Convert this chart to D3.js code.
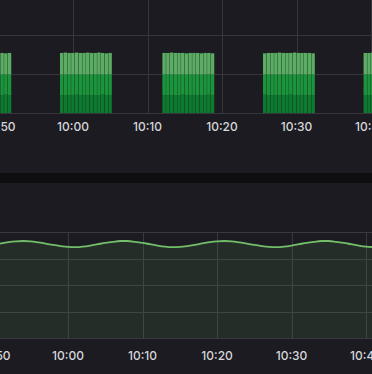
<!DOCTYPE html>
<html lang="en">
<head>
    <meta charset="utf-8">
    <title>Dashboard panels</title>
    <script src="https://d3js.org/d3.v7.min.js"></script>
    <style>
        body {
            margin: 0;
            padding: 0;
            background-color: #0e0e11;
            font-family: 'Inter', 'Roboto', sans-serif;
        }
        .tick-label {
            fill: #d6d7da;
            font-size: 12px;
            font-weight: 500;
            text-anchor: middle;
        }
    </style>
</head>
<body>
    <div id="chart"></div>

    <script>
        // ---- data ----
        // start of each "on" block of bars (one bar every 30 s)
        var blockStarts = ["09:44:45", "09:58:15", "10:12:00", "10:25:30", "10:39:00"];
        var barStepSec = 30;

        // stacked series, one row per block, one value per bar
        var seriesLow = [
            [4.6, 4.6, 4.5, 4.6, 4.6, 4.7, 4.6, 4.6, 4.5, 4.6, 4.6, 4.6, 4.7, 4.6],
            [4.6, 4.6, 4.5, 4.6, 4.7, 4.6, 4.6, 4.6, 4.5, 4.6, 4.6, 4.7, 4.6, 4.6],
            [4.6, 4.5, 4.6, 4.6, 4.6, 4.7, 4.6, 4.5, 4.6, 4.6, 4.6, 4.6, 4.7, 4.6],
            [4.7, 4.6, 4.6, 4.6, 4.5, 4.6, 4.6, 4.7, 4.6, 4.6, 4.6, 4.5, 4.6, 4.6],
            [4.6, 4.6, 4.6, 4.5, 4.6, 4.6, 4.7, 4.6, 4.6, 4.6, 4.6, 4.6, 4.5, 4.6]
        ];
        var seriesMid = [
            [5.3, 5.3, 5.4, 5.3, 5.3, 5.2, 5.3, 5.3, 5.4, 5.3, 5.3, 5.3, 5.2, 5.3],
            [5.3, 5.3, 5.4, 5.3, 5.2, 5.3, 5.3, 5.3, 5.4, 5.3, 5.3, 5.2, 5.3, 5.3],
            [5.3, 5.4, 5.3, 5.3, 5.3, 5.2, 5.3, 5.4, 5.3, 5.3, 5.3, 5.3, 5.2, 5.3],
            [5.2, 5.3, 5.3, 5.3, 5.4, 5.3, 5.3, 5.2, 5.3, 5.3, 5.3, 5.4, 5.3, 5.3],
            [5.3, 5.3, 5.3, 5.4, 5.3, 5.3, 5.2, 5.3, 5.3, 5.3, 5.3, 5.3, 5.4, 5.3]
        ];
        var seriesHigh = [
            [5.5, 5.5, 5.4, 5.5, 5.5, 5.6, 5.5, 5.5, 5.4, 5.5, 5.5, 5.5, 5.4, 5.5],
            [5.5, 5.6, 5.5, 5.5, 5.6, 5.5, 5.5, 5.6, 5.5, 5.5, 5.6, 5.5, 5.4, 5.5],
            [5.5, 5.5, 5.6, 5.5, 5.5, 5.5, 5.4, 5.5, 5.5, 5.5, 5.4, 5.5, 5.5, 5.4],
            [5.4, 5.5, 5.5, 5.5, 5.6, 5.5, 5.5, 5.5, 5.6, 5.5, 5.5, 5.5, 5.5, 5.4],
            [5.5, 5.5, 5.6, 5.5, 5.5, 5.5, 5.5, 5.6, 5.5, 5.5, 5.5, 5.5, 5.6, 5.5]
        ];
        var barColors = ["#0d7b2f", "#1b953b", "#5aad62"];

        // lower panel: one sample per minute
        var lineTimes = [
            "09:50", "09:51", "09:52", "09:53", "09:54", "09:55", "09:56", "09:57", "09:58", "09:59",
            "10:00", "10:01", "10:02", "10:03", "10:04", "10:05", "10:06", "10:07", "10:08", "10:09",
            "10:10", "10:11", "10:12", "10:13", "10:14", "10:15", "10:16", "10:17", "10:18", "10:19",
            "10:20", "10:21", "10:22", "10:23", "10:24", "10:25", "10:26", "10:27", "10:28", "10:29",
            "10:30", "10:31", "10:32", "10:33", "10:34", "10:35", "10:36", "10:37", "10:38", "10:39",
            "10:40", "10:41"
        ];
        var lineValues = [
            35.1, 35.7, 36.2, 36.5, 36.6, 36.5, 36.1, 35.6, 35.1, 34.7,
            34.4, 34.3, 34.5, 34.9, 35.4, 35.9, 36.3, 36.6, 36.6, 36.3,
            35.9, 35.4, 34.9, 34.5, 34.3, 34.4, 34.7, 35.1, 35.7, 36.2,
            36.5, 36.6, 36.5, 36.1, 35.6, 35.1, 34.7, 34.4, 34.3, 34.5,
            34.9, 35.4, 35.9, 36.3, 36.6, 36.6, 36.3, 35.9, 35.4, 34.9,
            34.5, 34.3
        ];

        // x tick labels shared by both panels
        var timeTicks = ["09:50", "10:00", "10:10", "10:20", "10:30", "10:40"];
        var topTicksY = [0, 10, 20, 30];
        var bottomTicksY = [0, 10, 20, 30, 40];

        // ---- layout ----
        var width = 372, height = 374;
        var parseT = d3.timeParse("%H:%M:%S");
        var parseM = d3.timeParse("%H:%M");
        var fmt = d3.timeFormat("%H:%M");
        var tickDates = timeTicks.map(parseM);

        var svg = d3.select("#chart")
            .append("svg")
            .attr("width", width)
            .attr("height", height)
            .style("display", "block");

        // panel backgrounds
        svg.append("rect").attr("x", 0).attr("y", 0)
            .attr("width", width).attr("height", 173).attr("fill", "#1c1b21");
        svg.append("rect").attr("x", 0).attr("y", 183)
            .attr("width", width).attr("height", 191).attr("fill", "#1c1b21");

        // ---- top panel: stacked bars ----
        var xTop = d3.scaleTime()
            .domain([parseT("09:50:12"), parseT("10:40:08")])
            .range([0, width]);
        var yTop = d3.scaleLinear().domain([0, 30]).range([113, -4]);

        var gTop = svg.append("g");

        gTop.selectAll(".vgrid")
            .data(tickDates)
            .enter().append("line")
            .attr("x1", function(d) { return Math.round(xTop(d)) + 0.5; })
            .attr("x2", function(d) { return Math.round(xTop(d)) + 0.5; })
            .attr("y1", -4).attr("y2", 113)
            .attr("stroke", "#36363c").attr("stroke-width", 1);

        gTop.selectAll(".hgrid")
            .data(topTicksY)
            .enter().append("line")
            .attr("x1", 0).attr("x2", width)
            .attr("y1", function(d) { return Math.round(yTop(d)) + 0.5; })
            .attr("y2", function(d) { return Math.round(yTop(d)) + 0.5; })
            .attr("stroke", "#36363c").attr("stroke-width", 1);

        // build rows for the stack
        var rows = [];
        blockStarts.forEach(function(s, b) {
            var t0 = parseT(s);
            seriesLow[b].forEach(function(v, i) {
                rows.push({
                    time: new Date(t0.getTime() + i * barStepSec * 1000),
                    low: v, mid: seriesMid[b][i], high: seriesHigh[b][i]
                });
            });
        });
        var stacked = d3.stack().keys(["low", "mid", "high"])(rows);
        var barW = xTop(new Date(parseT("10:00:00").getTime() + barStepSec * 1000)) - xTop(parseT("10:00:00"));

        gTop.selectAll(".layer")
            .data(stacked)
            .enter().append("g")
            .attr("fill", function(d, i) { return barColors[i]; })
            .selectAll("rect")
            .data(function(d) { return d; })
            .enter().append("rect")
            .attr("x", function(d) { return xTop(d.data.time); })
            .attr("width", barW - 0.3)
            .attr("y", function(d) { return yTop(d[1]); })
            .attr("height", function(d) { return yTop(d[0]) - yTop(d[1]); });

        gTop.selectAll(".xlab")
            .data(tickDates)
            .enter().append("text")
            .attr("class", "tick-label")
            .attr("x", function(d) { return xTop(d); })
            .attr("y", 131)
            .text(fmt);

        // ---- bottom panel: area line ----
        var xBot = d3.scaleTime()
            .domain([parseT("09:50:52"), parseT("10:40:48")])
            .range([0, width]);
        var yBot = d3.scaleLinear().domain([0, 40]).range([338, 232]);

        var gBot = svg.append("g");

        gBot.selectAll(".vgrid")
            .data(tickDates)
            .enter().append("line")
            .attr("x1", function(d) { return Math.round(xBot(d)) + 0.5; })
            .attr("x2", function(d) { return Math.round(xBot(d)) + 0.5; })
            .attr("y1", 232).attr("y2", 338)
            .attr("stroke", "#38383e").attr("stroke-width", 1);

        gBot.selectAll(".hgrid")
            .data(bottomTicksY)
            .enter().append("line")
            .attr("x1", 0).attr("x2", width)
            .attr("y1", function(d) { return Math.round(yBot(d)) + 0.5; })
            .attr("y2", function(d) { return Math.round(yBot(d)) + 0.5; })
            .attr("stroke", "#38383e").attr("stroke-width", 1);

        var pts = lineTimes.map(function(t, i) { return { time: parseM(t), value: lineValues[i] }; });

        var area = d3.area()
            .curve(d3.curveMonotoneX)
            .x(function(d) { return xBot(d.time); })
            .y0(yBot(0))
            .y1(function(d) { return yBot(d.value); });

        var line = d3.line()
            .curve(d3.curveMonotoneX)
            .x(function(d) { return xBot(d.time); })
            .y(function(d) { return yBot(d.value); });

        gBot.append("path")
            .datum(pts)
            .attr("d", area)
            .attr("fill", "#73bf69")
            .attr("fill-opacity", 0.11);

        gBot.append("path")
            .datum(pts)
            .attr("d", line)
            .attr("fill", "none")
            .attr("stroke", "#73bf69")
            .attr("stroke-width", 1.8);

        gBot.selectAll(".xlab")
            .data(tickDates)
            .enter().append("text")
            .attr("class", "tick-label")
            .attr("x", function(d) { return xBot(d); })
            .attr("y", 360)
            .text(fmt);
    </script>
</body>
</html>
